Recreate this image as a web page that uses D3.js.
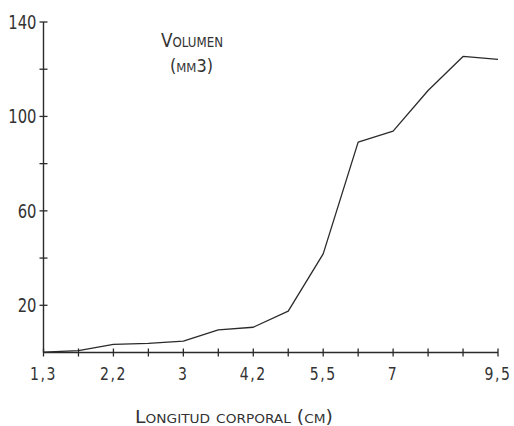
<!DOCTYPE html>
<html>
<head>
<meta charset="utf-8">
<script src="https://cdn.jsdelivr.net/npm/d3@7"></script>
<style>
  html, body { margin: 0; padding: 0; background: #fff; }
  svg { display: block; }
  text { fill: #333; }
</style>
</head>
<body>
<svg id="chart" width="514" height="426"></svg>
<script>
// ---- data ----
// positions along the (non-uniform) length axis: one step per tick
const categories = [0, 1, 2, 3, 4, 5, 6, 7, 8, 9, 10, 11, 12, 13];
const volumes = [0.2, 0.8, 3.4, 3.9, 4.8, 9.6, 10.7, 17.5, 41.8, 89.1, 93.8, 111, 125.4, 124.2];
const xTickPositions = [0, 2, 4, 6, 8, 10, 13];
const xTickLabels = ["1,3", "2,2", "3", "4,2", "5,5", "7", "9,5"];
const yTicks = [20, 40, 60, 80, 100, 120, 140];
const yTickLabels = [20, 60, 100, 140];

const svg = d3.select("#chart");
const ink = "#2a2a2a";
const numFont = "'DejaVu Sans', sans-serif";
const capFont = "'DejaVu Sans', sans-serif";
const squeeze = 0.74;

const x = d3.scaleLinear().domain([0, 13]).range([43.5, 498]);
const y = d3.scaleLinear().domain([0, 140]).range([352.5, 22]);

// axes lines
const g = svg.append("g");
g.append("line")
  .attr("x1", x(0)).attr("x2", x(13))
  .attr("y1", y(0)).attr("y2", y(0))
  .attr("stroke", ink).attr("stroke-width", 1.4);
g.append("line")
  .attr("x1", x(0)).attr("x2", x(0))
  .attr("y1", y(0)).attr("y2", y(140))
  .attr("stroke", ink).attr("stroke-width", 1.4);

// x ticks (cross the axis)
g.selectAll(".xt").data(d3.range(0, 14)).enter().append("line")
  .attr("x1", d => x(d)).attr("x2", d => x(d))
  .attr("y1", y(0) - 4).attr("y2", y(0) + 4)
  .attr("stroke", ink).attr("stroke-width", 1.3);

// y ticks
g.selectAll(".yt").data(yTicks).enter().append("line")
  .attr("x1", x(0) - 4).attr("x2", x(0) + 4)
  .attr("y1", d => y(d)).attr("y2", d => y(d))
  .attr("stroke", ink).attr("stroke-width", 1.3);

// y labels (narrow lettering)
g.selectAll(".yl").data(yTickLabels).enter().append("text")
  .attr("transform", d => `translate(${x(0) - 7},${y(d) + 7}) scale(${squeeze},1)`)
  .attr("text-anchor", "end")
  .attr("font-family", numFont)
  .attr("font-size", 20)
  .text(d => d);

// x labels
g.selectAll(".xl").data(xTickPositions).enter().append("text")
  .attr("transform", d => `translate(${x(d)},380) scale(${squeeze + 0.04},1)`)
  .attr("text-anchor", "middle")
  .attr("font-family", numFont)
  .attr("font-size", 18)
  .attr("letter-spacing", 2)
  .text((d, i) => xTickLabels[i]);

// line
const line = d3.line()
  .x((d, i) => x(categories[i]))
  .y(d => y(d));
svg.append("path")
  .datum(volumes)
  .attr("d", line)
  .attr("fill", "none")
  .attr("stroke", ink)
  .attr("stroke-width", 1.3)
  .attr("stroke-linejoin", "round");

// chart title (small caps)
svg.append("text")
  .attr("x", 192).attr("y", 47)
  .attr("text-anchor", "middle")
  .attr("font-family", capFont)
  .attr("font-size", 20)
  .style("font-variant", "small-caps")
  .attr("textLength", 62).attr("lengthAdjust", "spacingAndGlyphs")
  .text("Volumen");

svg.append("text")
  .attr("x", 191.5).attr("y", 72)
  .attr("text-anchor", "middle")
  .attr("font-family", capFont)
  .attr("font-size", 18)
  .style("font-variant", "small-caps")
  .attr("textLength", 43).attr("lengthAdjust", "spacingAndGlyphs")
  .text("(mm3)");

// x axis title
svg.append("text")
  .attr("x", 234).attr("y", 423)
  .attr("text-anchor", "middle")
  .attr("font-family", capFont)
  .attr("font-size", 18)
  .style("font-variant", "small-caps")
  .attr("textLength", 198).attr("lengthAdjust", "spacingAndGlyphs")
  .text("Longitud corporal (cm)");
</script>
</body>
</html>
